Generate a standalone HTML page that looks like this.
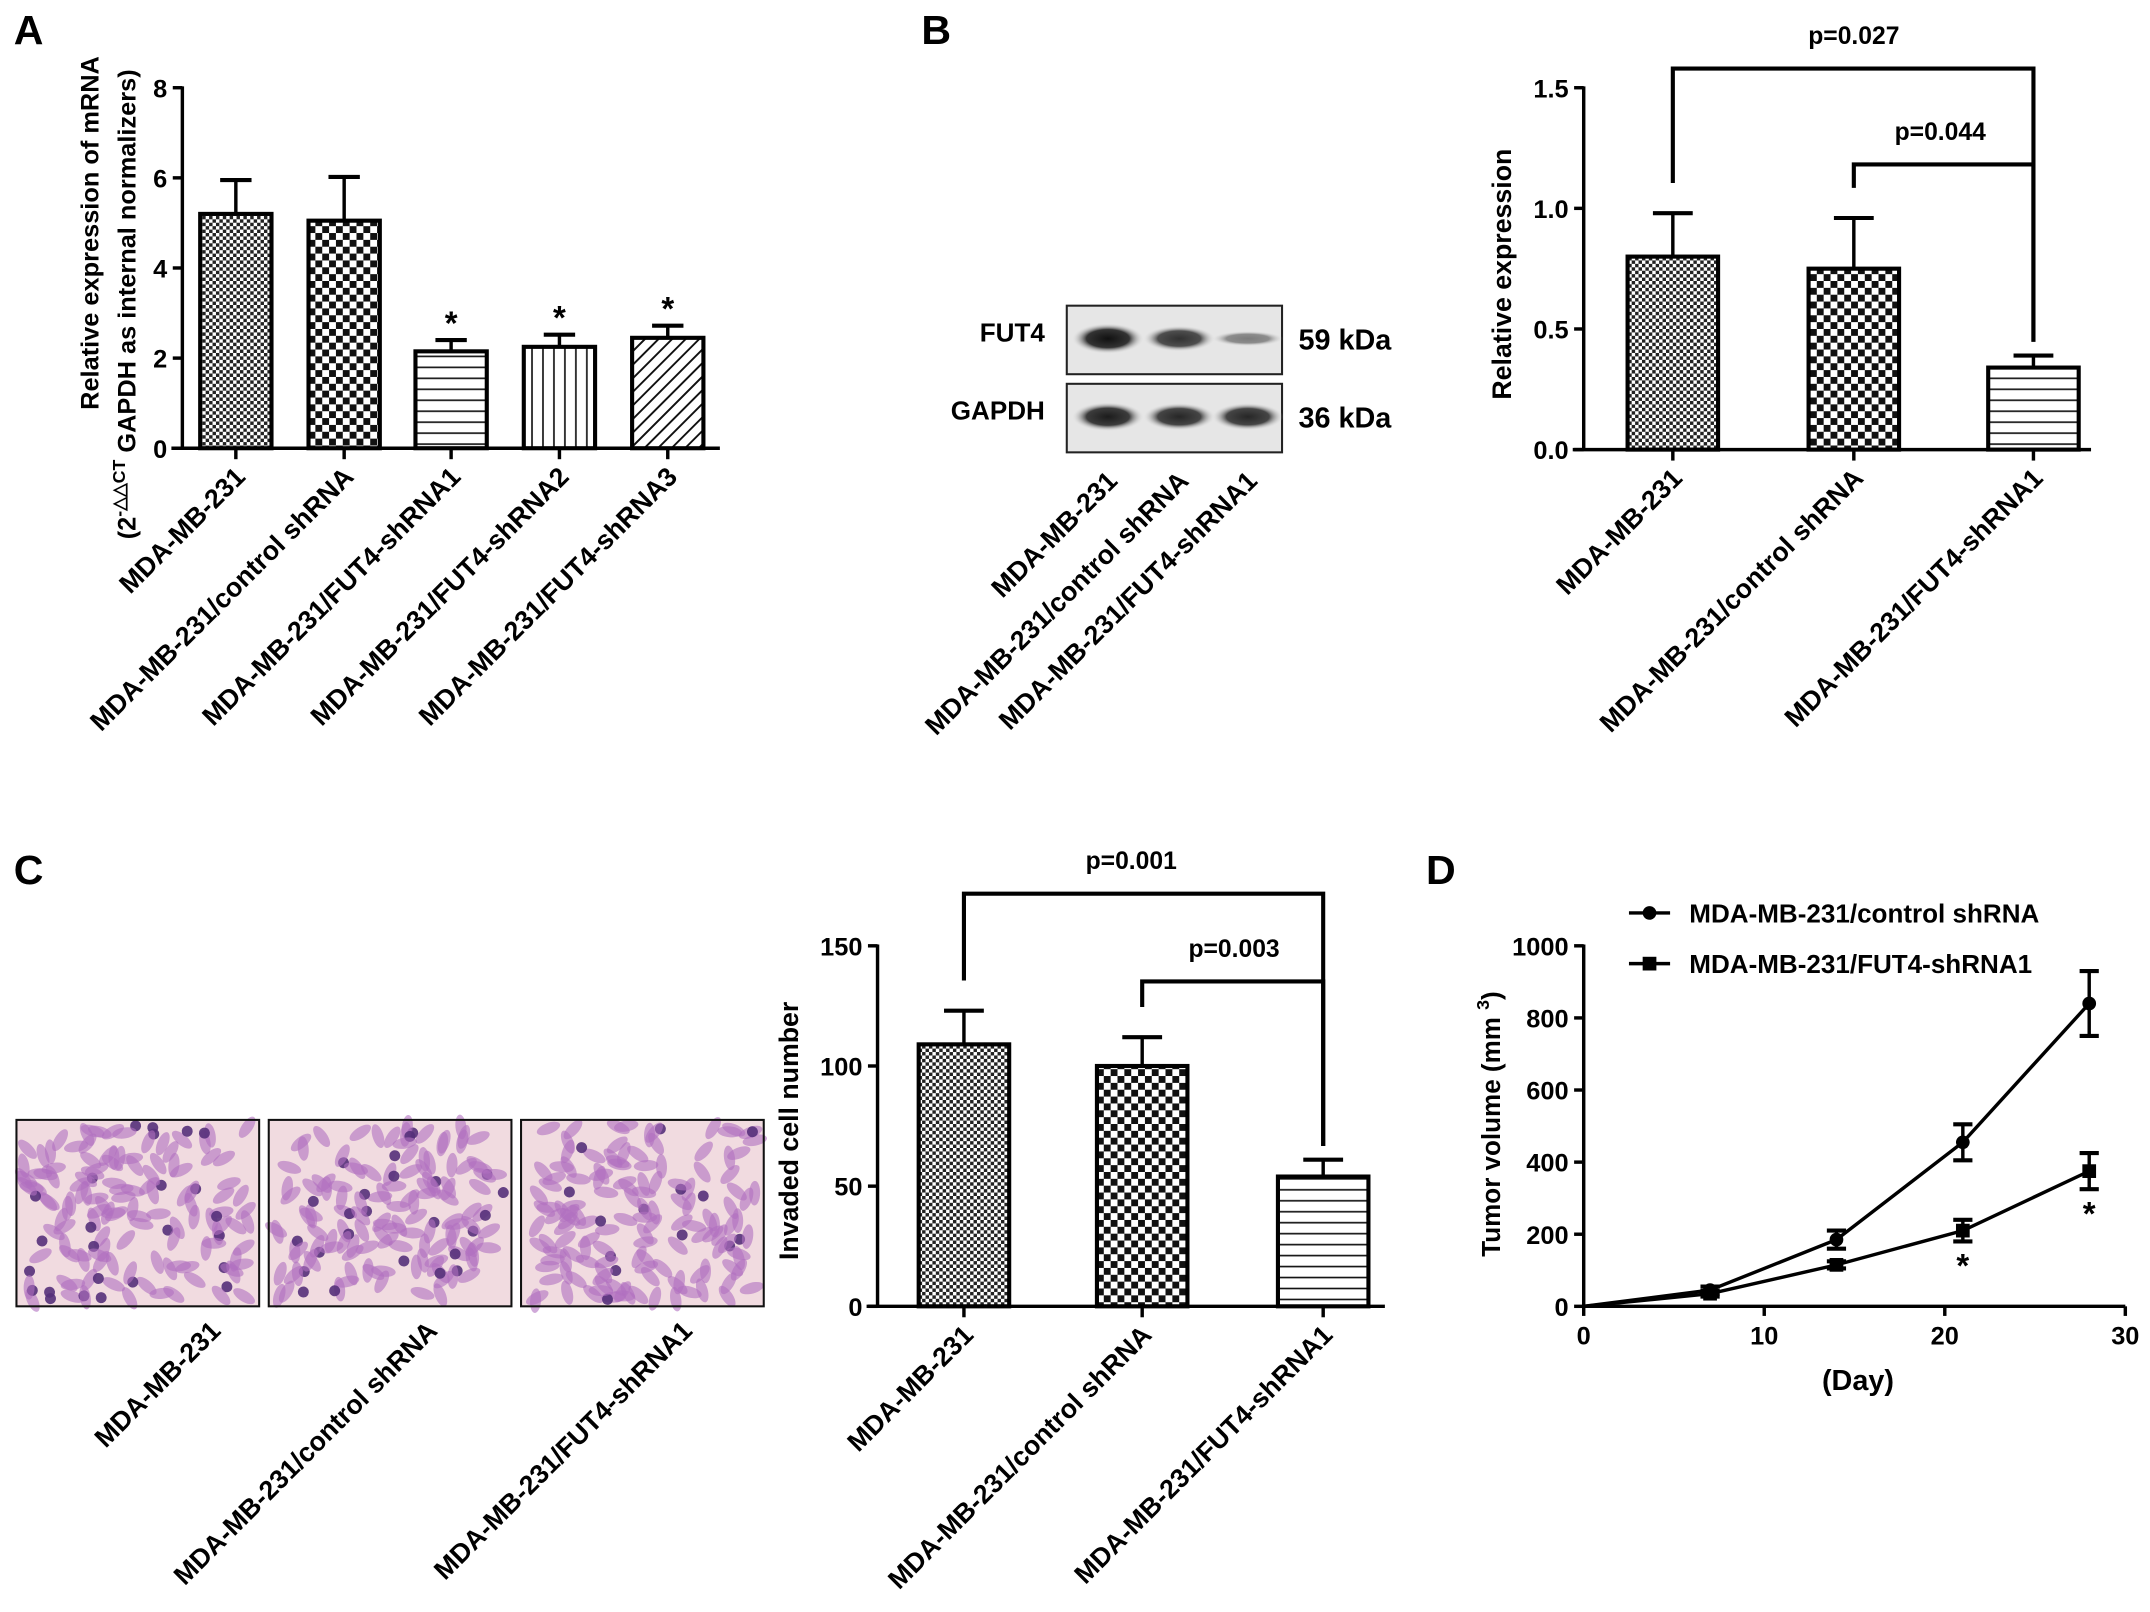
<!DOCTYPE html>
<html><head><meta charset="utf-8"><style>
html,body{margin:0;padding:0;background:#fff}
svg{display:block;font-family:"Liberation Sans",Arial,sans-serif}
text{font-weight:bold}
</style></head><body>
<svg id="fig" width="2150" height="1612" viewBox="0 0 1568 1176" preserveAspectRatio="none" xmlns="http://www.w3.org/2000/svg">
<defs>
<pattern id="pFine" width="5" height="5" patternUnits="userSpaceOnUse"><rect width="5" height="5" fill="#fff"/><rect width="2.5" height="2.5" fill="#222"/><rect x="2.5" y="2.5" width="2.5" height="2.5" fill="#222"/></pattern>
<pattern id="pCoarse" width="10" height="10" patternUnits="userSpaceOnUse"><rect width="10" height="10" fill="#fff"/><rect width="5" height="5" fill="#111"/><rect x="5" y="5" width="5" height="5" fill="#111"/></pattern>
<pattern id="pH" width="8" height="8" patternUnits="userSpaceOnUse"><rect width="8" height="8" fill="#fff"/><line x1="0" y1="4" x2="8" y2="4" stroke="#111" stroke-width="1.2"/></pattern>
<pattern id="pV" width="8" height="8" patternUnits="userSpaceOnUse"><rect width="8" height="8" fill="#fff"/><line x1="4" y1="0" x2="4" y2="8" stroke="#111" stroke-width="1.2"/></pattern>
<pattern id="pD" width="7" height="7" patternUnits="userSpaceOnUse" patternTransform="rotate(45)"><rect width="7" height="7" fill="#fff"/><line x1="3.5" y1="0" x2="3.5" y2="7" stroke="#111" stroke-width="1.4"/></pattern>
<radialGradient id="band"><stop offset="0" stop-color="#111"/><stop offset="0.6" stop-color="#333"/><stop offset="1" stop-color="#ddd" stop-opacity="0"/></radialGradient>
</defs>
<g id="root"></g>
</svg>
<script>
// Panel A data
const aCats=["MDA-MB-231","MDA-MB-231/control shRNA","MDA-MB-231/FUT4-shRNA1","MDA-MB-231/FUT4-shRNA2","MDA-MB-231/FUT4-shRNA3"];
const aVals=[5.2,5.05,2.15,2.25,2.45];
const aErr=[0.75,0.97,0.25,0.27,0.27];
const aStar=[false,false,true,true,true];
const aTicks=[0,2,4,6,8];
// Panel B data
const bCats=["MDA-MB-231","MDA-MB-231/control shRNA","MDA-MB-231/FUT4-shRNA1"];
const bVals=[0.80,0.75,0.34];
const bErr=[0.18,0.21,0.05];
const bTicks=[0,0.5,1.0,1.5];
const bTickLabels=["0.0","0.5","1.0","1.5"];
const bPvals=["p=0.027","p=0.044"];
// Panel C data
const cCats=["MDA-MB-231","MDA-MB-231/control shRNA","MDA-MB-231/FUT4-shRNA1"];
const cVals=[109,100,54];
const cErr=[14,12,7];
const cTicks=[0,50,100,150];
const cPvals=["p=0.001","p=0.003"];
// Panel D data
const dDays=[0,7,14,21,28];
const dCtrl=[0,45,185,455,840];
const dCtrlErr=[0,10,25,50,90];
const dFut=[0,35,115,210,375];
const dFutErr=[0,8,10,30,50];
const dStar=[false,false,false,true,true];
const dYTicks=[0,200,400,600,800,1000];
const dXTicks=[0,10,20,30];

const NS="http://www.w3.org/2000/svg";
const root=document.getElementById('root');
const LBL=19.5, TCK=18.5;
function mk(tag,attrs,parent,txt){const e=document.createElementNS(NS,tag);for(const k in attrs)e.setAttribute(k,attrs[k]);if(txt!==undefined)e.textContent=txt;(parent||root).appendChild(e);return e;}
function grp(name){const g=mk('g',{});return g;}

function barChart(o){
  const g=grp(o.name);
  const ys=v=>o.y0-(v-o.ymin)/(o.ymax-o.ymin)*(o.y0-o.y1);
  const ax=mk('line',{x1:o.x0,y1:o.y1-1,x2:o.x0,y2:o.y0,stroke:'#000','stroke-width':2.5},g);
  
  const xx=mk('line',{x1:o.x0-8,y1:o.y0,x2:o.xEnd,y2:o.y0,stroke:'#000','stroke-width':2.5},g);
  
  o.ticks.forEach((t,i)=>{
    const y=ys(t);
    mk('line',{x1:o.x0-7,y1:y,x2:o.x0,y2:y,stroke:'#000','stroke-width':2.5},g);
    const tl=mk('text',{x:o.x0-11,y:y+7,'text-anchor':'end','font-size':TCK},g,o.tickLabels?o.tickLabels[i]:t);
    
  });
  o.vals.forEach((v,i)=>{
    const cx=o.cx[i],w=o.bw;
    const top=ys(v),et=ys(v+o.err[i]);
    mk('line',{x1:cx,y1:top,x2:cx,y2:et,stroke:'#000','stroke-width':2.5},g);
    mk('line',{x1:cx-w*0.22,y1:et,x2:cx+w*0.22,y2:et,stroke:'#000','stroke-width':3},g);
    const r=mk('rect',{x:cx-w/2,y:top,width:w,height:o.y0-top,fill:'url(#'+o.pats[i]+')',stroke:'#000','stroke-width':3},g);
    
    mk('line',{x1:cx,y1:o.y0,x2:cx,y2:o.y0+8,stroke:'#000','stroke-width':2.5},g);
    const lb=mk('text',{x:0,y:0,'text-anchor':'end','font-size':LBL,transform:`translate(${cx+8},${o.y0+22}) rotate(-45)`},g,o.cats[i]);
    
    if(o.star&&o.star[i]){const s=mk('text',{x:cx,y:et-4,'text-anchor':'middle','font-size':24},g,'*');}
  });
  if(o.brackets){
    o.brackets.forEach((b,k)=>{
      const yb=b.y;
      const p=mk('polyline',{points:`${o.cx[b.a]},${ys(o.vals[b.a]+o.err[b.a])-22} ${o.cx[b.a]},${yb} ${o.cx[b.b]},${yb} ${o.cx[b.b]},${ys(o.vals[b.b]+o.err[b.b])-10}`,fill:'none',stroke:'#000','stroke-width':3},g);
      
      const t=mk('text',{x:b.tx,y:yb-18,'text-anchor':'middle','font-size':18},g,o.pvals[k]);
      
    });
  }
  return {g,ys};
}

[["A",10,32],["B",672,32],["C",10,645],["D",1040,645]].forEach(l=>{const t=mk('text',{x:l[1],y:l[2],'font-size':30},root,l[0]);});

// Panel A
barChart({name:'panel-a-chart',x0:133,xEnd:525,y0:327,y1:64,ymin:0,ymax:8,ticks:aTicks,vals:aVals,err:aErr,cats:aCats,
  cx:[172,251,329,408,487],bw:52,pats:['pFine','pCoarse','pH','pV','pD'],star:aStar});
{const t=mk('text',{transform:'translate(72,170) rotate(-90)','text-anchor':'middle','font-size':18.5},root,'Relative expression of mRNA');
 const t2=mk('text',{transform:'translate(99,222) rotate(-90)','text-anchor':'middle','font-size':18.5},root);
 mk('tspan',{},t2,'(2');mk('tspan',{'font-size':13,dy:-8},t2,'-△△CT');mk('tspan',{dy:8},t2,'  GAPDH as internal normalizers)');}

// Panel B blot
{const g=grp('western-blot');
 [[223,'FUT4','59 kDa',[1,0.85,0.5]],[280,'GAPDH','36 kDa',[0.95,0.9,0.9]]].forEach((r,ri)=>{
  mk('rect',{x:778,y:r[0],width:157,height:50,fill:'#e6e6e6',stroke:'#222','stroke-width':1.5},g);
  [808,860,910].forEach((x,i)=>{mk('ellipse',{cx:x,cy:r[0]+24,rx:26,ry:11*r[3][i],fill:'url(#band)',opacity:r[3][i]},g);});
  const l=mk('text',{x:762,y:r[0]+26,'text-anchor':'end','font-size':19},g,r[1]);
  const k=mk('text',{x:947,y:r[0]+32,'font-size':21,'font-weight':'normal'},g,r[2]);
 });
 [808,860,910].forEach((x,i)=>{const t=mk('text',{transform:`translate(${x+8},${352}) rotate(-45)`,'text-anchor':'end','font-size':LBL},g,bCats[i]);});
}
barChart({name:'panel-b-chart',x0:1155,xEnd:1525,y0:328,y1:64,ymin:0,ymax:1.5,ticks:bTicks,tickLabels:bTickLabels,vals:bVals,err:bErr,cats:bCats,
  cx:[1220,1352,1483],bw:66,pats:['pFine','pCoarse','pH'],pvals:bPvals,
  brackets:[{a:0,b:2,y:50,tx:1352},{a:1,b:2,y:120,tx:1415}]});
{const t=mk('text',{transform:'translate(1102,200) rotate(-90)','text-anchor':'middle','font-size':19.5},root,'Relative expression');}

// Panel C micrographs
{const g=grp('micrographs');
 const boxes=[12,196,380], ends=[162,320,506];
 boxes.forEach((x,bi)=>{
  const im=mk('g',{},g);
  mk('rect',{x:x,y:817,width:177,height:136,fill:'#f1dbe0'},im);
  let s=17+bi*31;
  for(let k=0;k<150;k++){s=(s*9301+49297)%233280;const px=x+5+(s/233280)*167;s=(s*9301+49297)%233280;const py=821+(s/233280)*128;s=(s*9301+49297)%233280;const a=(s/233280)*180;
   const dark=k%(bi===2?11:6)===0;
   mk('ellipse',{cx:px,cy:py,rx:dark?4:9,ry:dark?4:4,fill:dark?'#55307a':'#b170bf',opacity:dark?0.9:0.6,transform:`rotate(${a} ${px} ${py})`},im);}
  mk('rect',{x:x,y:817,width:177,height:136,fill:'none',stroke:'#111','stroke-width':1.5},im);
  const t=mk('text',{transform:`translate(${ends[bi]},${972}) rotate(-45)`,'text-anchor':'end','font-size':LBL},g,cCats[bi]);
 });
}
barChart({name:'panel-c-chart',x0:640,xEnd:1010,y0:953,y1:690,ymin:0,ymax:150,ticks:cTicks,vals:cVals,err:cErr,cats:cCats,
  cx:[703,833,965],bw:66,pats:['pFine','pCoarse','pH'],pvals:cPvals,
  brackets:[{a:0,b:2,y:652,tx:825},{a:1,b:2,y:716,tx:900}]});
{const t=mk('text',{transform:'translate(582,825) rotate(-90)','text-anchor':'middle','font-size':19.5},root,'Invaded cell number');}

// Panel D line chart
{const g=grp('panel-d-chart');
 const X0=1155,X1=1550,Y0=953,Y1=690;
 const xs=d=>X0+d/30*(X1-X0), ys=v=>Y0-v/1000*(Y0-Y1);
 mk('line',{x1:X0,y1:Y1-1,x2:X0,y2:Y0,stroke:'#000','stroke-width':2.5},g);
 mk('line',{x1:X0,y1:Y0,x2:X1,y2:Y0,stroke:'#000','stroke-width':2.5},g);
 dYTicks.forEach(t=>{const y=ys(t);mk('line',{x1:X0-7,y1:y,x2:X0,y2:y,stroke:'#000','stroke-width':2.5},g);const l=mk('text',{x:X0-11,y:y+7,'text-anchor':'end','font-size':TCK},g,t);});
 dXTicks.forEach(t=>{const x=xs(t);mk('line',{x1:x,y1:Y0,x2:x,y2:Y0+7,stroke:'#000','stroke-width':2.5},g);const l=mk('text',{x:x,y:Y0+28,'text-anchor':'middle','font-size':TCK},g,t);});
 function series(vals,errs,marker,name){
  const sg=mk('g',{},g);
  mk('polyline',{points:dDays.map((d,i)=>xs(d)+','+ys(vals[i])).join(' '),fill:'none',stroke:'#000','stroke-width':2.5},sg);
  dDays.forEach((d,i)=>{const x=xs(d),y=ys(vals[i]);
   if(errs[i]>0){const a=ys(vals[i]+errs[i]),b=ys(vals[i]-errs[i]);mk('line',{x1:x,y1:a,x2:x,y2:b,stroke:'#000','stroke-width':2.5},sg);mk('line',{x1:x-7,y1:a,x2:x+7,y2:a,stroke:'#000','stroke-width':3},sg);mk('line',{x1:x-7,y1:b,x2:x+7,y2:b,stroke:'#000','stroke-width':3},sg);}
   if(i>0){const m=marker==='c'?mk('circle',{cx:x,cy:y,r:5,fill:'#000'},sg):mk('rect',{x:x-5,y:y-5,width:10,height:10,fill:'#000'},sg);}
  });
 }
 series(dCtrl,dCtrlErr,'c','series-control-shrna');
 series(dFut,dFutErr,'s','series-fut4-shrna1');
 dDays.forEach((d,i)=>{if(dStar[i]){const s=mk('text',{x:xs(d),y:ys(dFut[i]-dFutErr[i])+26,'text-anchor':'middle','font-size':24},g,'*');}});
 const lg=mk('g',{},g);
 mk('line',{x1:1188,y1:666,x2:1218,y2:666,stroke:'#000','stroke-width':2.5},lg);mk('circle',{cx:1203,cy:666,r:5},lg);
 mk('text',{x:1232,y:673,'font-size':19},lg,'MDA-MB-231/control shRNA');
 mk('line',{x1:1188,y1:703,x2:1218,y2:703,stroke:'#000','stroke-width':2.5},lg);mk('rect',{x:1198,y:698,width:10,height:10},lg);
 mk('text',{x:1232,y:710,'font-size':19},lg,'MDA-MB-231/FUT4-shRNA1');
 const yt=mk('text',{transform:'translate(1094,820) rotate(-90)','text-anchor':'middle','font-size':19},g);
 mk('tspan',{},yt,'Tumor volume (mm ');mk('tspan',{'font-size':13,dy:-8},yt,'3');mk('tspan',{dy:8},yt,')');
 const xt=mk('text',{x:1355,y:1014,'text-anchor':'middle','font-size':21},g,'(Day)');
}
</script>
</body></html>
